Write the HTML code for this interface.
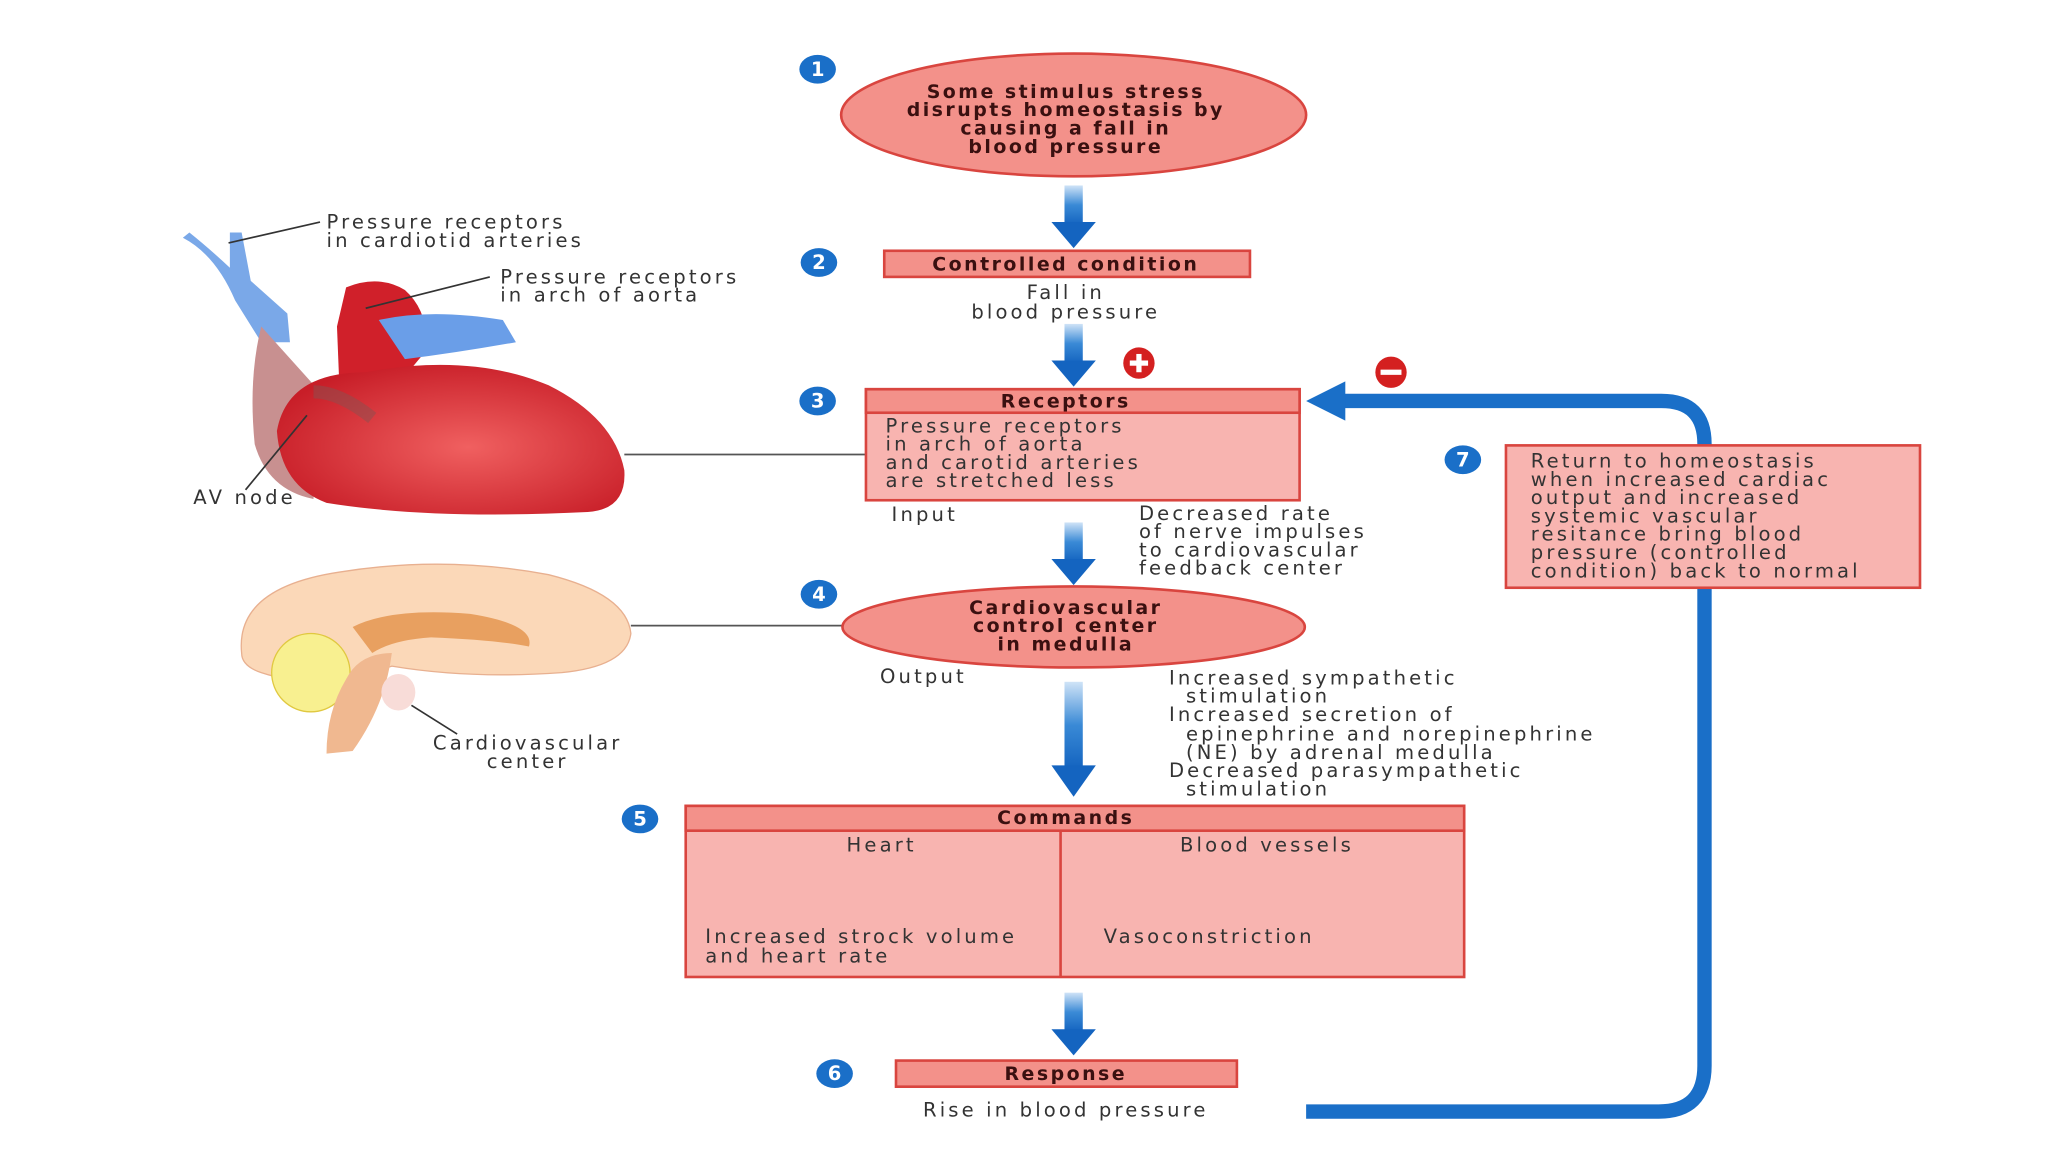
<!DOCTYPE html>
<html><head><meta charset="utf-8"><style>
html,body{margin:0;padding:0;background:#fff;}
svg{display:block;}
text{font-family:"DejaVu Sans","Liberation Sans",sans-serif;font-size:15px;letter-spacing:2.4px;fill:#333;}
.b{font-weight:bold;fill:#3a1010;font-size:14.5px;letter-spacing:1.9px;}
.n{font-weight:bold;fill:#fff;font-size:15px;letter-spacing:0;}
</style></head><body>
<svg width="2048" height="1152" viewBox="0 0 1568 882" xmlns="http://www.w3.org/2000/svg">
<defs>
<linearGradient id="ar" x1="0" y1="0" x2="0" y2="1">
<stop offset="0" stop-color="#cfe3f7"/><stop offset="0.5" stop-color="#3a8ad6"/><stop offset="1" stop-color="#1464c0"/></linearGradient>
<g id="arrow"><rect x="-7" y="0" width="14" height="30" fill="url(#ar)"/><polygon points="-17,28 17,28 0,48" fill="#1464c0"/></g>
<radialGradient id="hg" cx="0.55" cy="0.55" r="0.6"><stop offset="0" stop-color="#f06060"/><stop offset="1" stop-color="#c81e28"/></radialGradient>
</defs>

<line x1="478" y1="348" x2="663" y2="348" stroke="#555" stroke-width="1.3"/>
<line x1="483" y1="479" x2="650" y2="479" stroke="#555" stroke-width="1.3"/>

<path d="M1000,851 L1270,851 Q1305,851 1305,816 L1305,340 Q1305,307 1272,307 L1025,307" fill="none" stroke="#1a6fc8" stroke-width="11"/>
<polygon points="1000,307 1030,292 1030,322" fill="#1a6fc8"/>

<ellipse cx="822" cy="88" rx="178" ry="47" fill="#f3918a" stroke="#d9453f" stroke-width="2"/>
<text class="b" x="816" y="75" text-anchor="middle">Some stimulus stress</text>
<text class="b" x="816" y="89" text-anchor="middle">disrupts homeostasis by</text>
<text class="b" x="816" y="103" text-anchor="middle">causing a fall in</text>
<text class="b" x="816" y="117" text-anchor="middle">blood pressure</text>
<use href="#arrow" x="822" y="142"/>

<rect x="677" y="192" width="280" height="20" fill="#f3918a" stroke="#d9453f" stroke-width="2"/>
<text class="b" x="816" y="207" text-anchor="middle">Controlled condition</text>
<text x="816" y="229" text-anchor="middle">Fall in</text>
<text x="816" y="244" text-anchor="middle">blood pressure</text>
<use href="#arrow" x="822" y="248"/>
<circle cx="872" cy="278" r="12" fill="#d42020"/>
<rect x="865" y="276" width="14" height="4" fill="#fff"/><rect x="870" y="271" width="4" height="14" fill="#fff"/>

<rect x="663" y="298" width="332" height="85" fill="#f8b4b0" stroke="#d9453f" stroke-width="2"/>
<rect x="663" y="298" width="332" height="18" fill="#f3918a" stroke="#d9453f" stroke-width="2"/>
<text class="b" x="816" y="312" text-anchor="middle">Receptors</text>
<text x="678" y="331">Pressure receptors</text>
<text x="678" y="345">in arch of aorta</text>
<text x="678" y="359">and carotid arteries</text>
<text x="678" y="373">are stretched less</text>
<circle cx="1065" cy="285" r="12" fill="#d42020"/><rect x="1057" y="283" width="16" height="4" fill="#fff"/>
<text x="708" y="399" text-anchor="middle">Input</text>
<text x="872" y="398">Decreased rate</text>
<text x="872" y="412">of nerve impulses</text>
<text x="872" y="426">to cardiovascular</text>
<text x="872" y="440">feedback center</text>
<use href="#arrow" x="822" y="400"/>

<rect x="1153" y="341" width="317" height="109" fill="#f8b4b0" stroke="#d9453f" stroke-width="2"/>
<text x="1172" y="358">Return to homeostasis</text>
<text x="1172" y="372">when increased cardiac</text>
<text x="1172" y="386">output and increased</text>
<text x="1172" y="400">systemic vascular</text>
<text x="1172" y="414">resitance bring blood</text>
<text x="1172" y="428">pressure (controlled</text>
<text x="1172" y="442">condition) back to normal</text>

<ellipse cx="822" cy="480" rx="177" ry="31" fill="#f3918a" stroke="#d9453f" stroke-width="2"/>
<text class="b" x="816" y="470" text-anchor="middle">Cardiovascular</text>
<text class="b" x="816" y="484" text-anchor="middle">control center</text>
<text class="b" x="816" y="498" text-anchor="middle">in medulla</text>
<text x="707" y="523" text-anchor="middle">Output</text>
<text x="895" y="524">Increased sympathetic</text>
<text x="908" y="538">stimulation</text>
<text x="895" y="552">Increased secretion of</text>
<text x="908" y="567">epinephrine and norepinephrine</text>
<text x="908" y="581">(NE) by adrenal medulla</text>
<text x="895" y="595">Decreased parasympathetic</text>
<text x="908" y="609">stimulation</text>
<rect x="815" y="522" width="14" height="66" fill="url(#ar)"/><polygon points="805,586 839,586 822,610" fill="#1464c0"/>

<rect x="525" y="617" width="596" height="131" fill="#f8b4b0" stroke="#d9453f" stroke-width="2"/>
<rect x="525" y="617" width="596" height="19" fill="#f3918a" stroke="#d9453f" stroke-width="2"/>
<line x1="812" y1="636" x2="812" y2="748" stroke="#d9453f" stroke-width="2"/>
<text class="b" x="816" y="631" text-anchor="middle">Commands</text>
<text x="675" y="652" text-anchor="middle">Heart</text>
<text x="970" y="652" text-anchor="middle">Blood vessels</text>
<text x="540" y="722">Increased strock volume</text>
<text x="540" y="737">and heart rate</text>
<text x="845" y="722">Vasoconstriction</text>
<use href="#arrow" x="822" y="760"/>

<rect x="686" y="812" width="261" height="20" fill="#f3918a" stroke="#d9453f" stroke-width="2"/>
<text class="b" x="816" y="827" text-anchor="middle">Response</text>
<text x="816" y="855" text-anchor="middle">Rise in blood pressure</text>

<g fill="#1a6fc8">
<ellipse cx="626" cy="53" rx="14" ry="11"/><ellipse cx="627" cy="201" rx="14" ry="11"/>
<ellipse cx="626" cy="307" rx="14" ry="11"/><ellipse cx="627" cy="455" rx="14" ry="11"/>
<ellipse cx="490" cy="627" rx="14" ry="11"/><ellipse cx="639" cy="822" rx="14" ry="11"/>
<ellipse cx="1120" cy="352" rx="14" ry="11"/></g>
<text class="n" x="626" y="58" text-anchor="middle">1</text><text class="n" x="627" y="206" text-anchor="middle">2</text>
<text class="n" x="626" y="312" text-anchor="middle">3</text><text class="n" x="627" y="460" text-anchor="middle">4</text>
<text class="n" x="490" y="632" text-anchor="middle">5</text><text class="n" x="639" y="827" text-anchor="middle">6</text>
<text class="n" x="1120" y="357" text-anchor="middle">7</text>

<path d="M140,182 Q165,195 180,230 L200,262 L222,262 L220,240 L192,215 L185,178 L176,178 L176,205 Q160,190 145,178 Z" fill="#7aa8e8"/>
<path d="M200,250 Q190,290 195,340 Q205,375 240,382 L245,300 Z" fill="#c89090"/>
<path d="M265,220 Q290,210 310,222 Q330,240 325,270 L300,300 L260,300 L258,250 Z" fill="#d0202a"/>
<path d="M212,330 Q220,285 280,285 Q360,270 420,295 Q470,320 478,360 Q480,390 450,392 Q330,398 250,385 Q215,372 212,330 Z" fill="url(#hg)"/>
<path d="M290,245 Q330,236 385,245 L395,262 Q350,270 310,275 Z" fill="#6a9ee8"/>
<path d="M240,300 Q260,300 285,320" stroke="#8a5050" stroke-width="10" fill="none" opacity="0.5"/>
<line x1="175" y1="186" x2="245" y2="170" stroke="#333" stroke-width="1.3"/>
<line x1="280" y1="236" x2="375" y2="212" stroke="#333" stroke-width="1.3"/>
<line x1="235" y1="318" x2="188" y2="375" stroke="#333" stroke-width="1.3"/>
<text x="250" y="175">Pressure receptors</text>
<text x="250" y="189">in cardiotid arteries</text>
<text x="383" y="217">Pressure receptors</text>
<text x="383" y="231">in arch of aorta</text>
<text x="148" y="386">AV node</text>

<path d="M185,500 Q180,450 260,438 Q340,425 420,440 Q480,455 483,485 Q480,510 430,515 Q360,520 300,510 L270,520 Q230,525 200,515 Q185,510 185,500 Z" fill="#fbd8b8" stroke="#e8b090"/>
<path d="M270,480 Q300,465 360,470 Q410,478 405,495 Q380,490 330,488 Q300,490 285,500 Z" fill="#e8a060"/>
<circle cx="238" cy="515" r="30" fill="#f8f090" stroke="#e0c840"/>
<path d="M265,520 Q275,500 300,500 Q295,540 270,575 L250,577 Q250,545 265,520 Z" fill="#f0b890"/>
<ellipse cx="305" cy="530" rx="13" ry="14" fill="#f8dcd8"/>
<line x1="315" y1="540" x2="350" y2="562" stroke="#333" stroke-width="1.3"/>
<text x="404" y="574" text-anchor="middle">Cardiovascular</text>
<text x="404" y="588" text-anchor="middle">center</text>
</svg>
</body></html>
